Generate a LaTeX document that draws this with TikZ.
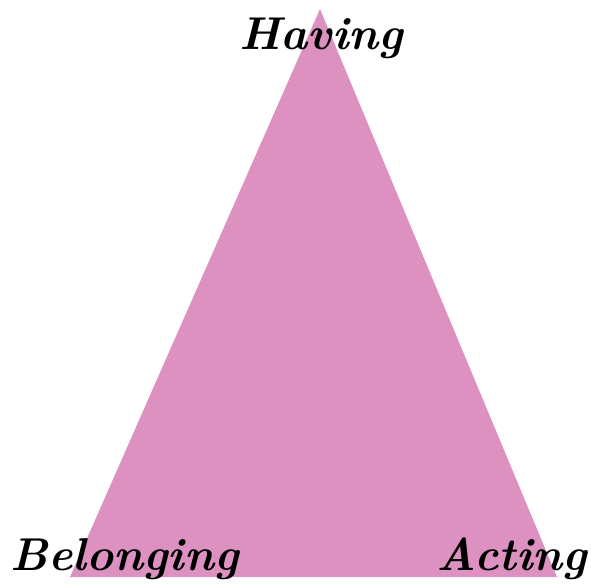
\documentclass[tikz,border=0pt]{standalone}
\usetikzlibrary{calc}

\definecolor{orchidfill}{HTML}{DC91C0}

\begin{document}
\begin{tikzpicture}[
  x=1pt,y=-1pt,
  tri/.style={fill=orchidfill,draw=none},
  lab/.style={font=\fontsize{46}{55}\selectfont\bfseries\itshape,text=black,inner sep=0pt,anchor=base}
]

% cadru (marimea imaginii)
\useasboundingbox (0,0) rectangle (591,583);

% varfurile triunghiului
\coordinate (top)   at (320,9);
\coordinate (left)  at (70,577);
\coordinate (right) at (557,577);

\fill[tri] (top) -- (left) -- (right) -- cycle;

% etichete la colturi
\node[lab] (having)    at (321,50)   {Having};
\node[lab] (belonging) at (124.5,570) {Belonging};
\node[lab] (acting)    at (512,570)  {Acting};

\end{tikzpicture}
\end{document}
